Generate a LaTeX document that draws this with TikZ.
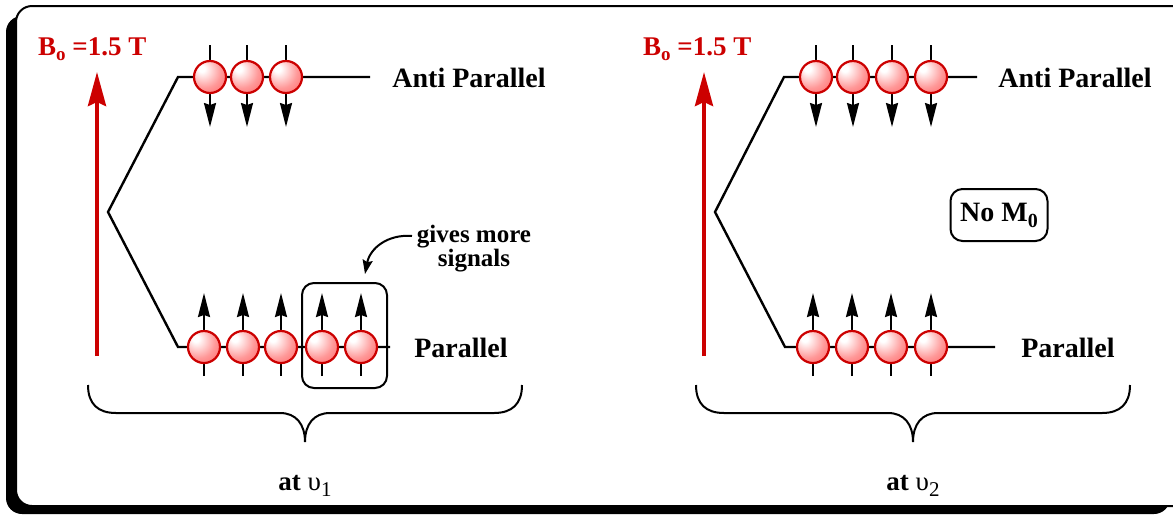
\documentclass[tikz,border=0pt]{standalone}
\usepackage{fontspec}
\setmainfont{Liberation Serif}
\usetikzlibrary{arrows.meta}
\definecolor{bred}{RGB}{204,0,0}
\pgfdeclareradialshading{sphere}{\pgfpoint{-14bp}{14bp}}{color(0bp)=(white); color(5bp)=(white); color(26bp)=(red!40!white); color(50bp)=(red!68!white); color(72bp)=(red!85!white)}
\begin{document}
\begin{tikzpicture}[x=1pt,y=-1pt,
  level/.style={line width=2.4pt},
  spin/.style={line width=2pt,-{Stealth[length=24pt,width=12pt,inset=2pt]}},
  sph/.style={circle,minimum size=32pt,inner sep=0pt,draw=bred,line width=2.2pt,shading=sphere},
  field/.style={bred,line width=4pt,-{Stealth[length=34pt,width=18pt,inset=4pt]}},
  lbl/.style={font=\bfseries\fontsize{28}{30}\selectfont,inner sep=0pt},
  redlbl/.style={text=bred,font=\bfseries\fontsize{27}{29}\selectfont,inner sep=0pt},
  brace/.style={line width=2pt},
  roundbox/.style={draw,rounded corners=12pt,line width=2pt,inner sep=0pt}
]
\useasboundingbox (0,0) rectangle (1173,515);
% frame with shadow
\fill[black,rounded corners=16pt] (6,16) rectangle (1170,514);
\draw[line width=2pt,fill=white,rounded corners=16pt] (16,6) rectangle (1190,506);

% ---------- left panel ----------
\coordinate (LFb) at (97,356);
\coordinate (LFt) at (97,72);
\draw[field] (LFb) -- (LFt);
\node[redlbl,anchor=base west] (LB) at (38,55) {B\raisebox{-5pt}{\fontsize{19}{19}\selectfont o} =1.5 T};

\coordinate (Ltr) at (370,77);
\coordinate (Ltl) at (178,77);
\coordinate (Lv) at (108,212);
\coordinate (Lbl) at (178,347);
\coordinate (Lbr) at (390,347);
\node[roundbox,minimum width=85pt,minimum height=105pt] (sel) at (344.5,335.5) {};
\draw[level] (Ltr) -- (Ltl) -- (Lv) -- (Lbl) -- (Lbr);

\foreach \i/\x in {1/210,2/247,3/286}{
  \coordinate (LAs\i) at (\x,45);
  \coordinate (LAe\i) at (\x,127);
  \draw[spin] (LAs\i) -- (LAe\i);
  \node[sph] (LA\i) at (\x,77) {};
}
\foreach \i/\x in {1/204,2/243,3/281,4/322,5/361}{
  \coordinate (LPs\i) at (\x,376);
  \coordinate (LPe\i) at (\x,293);
  \draw[spin] (LPs\i) -- (LPe\i);
  \node[sph] (LP\i) at (\x,347) {};
}

\node[lbl,anchor=base] (LAnti) at (469,87) {Anti Parallel};
\node[lbl,anchor=base] (LPar) at (461,357) {Parallel};

\node[align=center,inner sep=0pt,font=\bfseries\fontsize{25}{22}\selectfont] (gives) at (474,249) {gives more\\signals};
\coordinate (g1) at (412,236);
\coordinate (g2) at (365,274);
\draw[line width=2pt,-{Stealth[length=14pt,width=10pt,inset=2pt]}] (g1) .. controls (388,234) and (370,248) .. (g2);

\draw[brace] (88,385) .. controls (88,404) and (98,413) .. (116,413) -- (280,413)
  .. controls (296,413) and (305,424) .. (305,442)
  .. controls (305,424) and (314,413) .. (330,413) -- (494,413)
  .. controls (512,413) and (522,404) .. (522,385);
\node[inner sep=0pt,anchor=base,font=\fontsize{27}{29}\selectfont] (at1) at (305,490) {\textbf{at} υ\raisebox{-6pt}{\fontsize{21}{21}\selectfont 1}};

% ---------- right panel ----------
\coordinate (RFb) at (704,356);
\coordinate (RFt) at (704,72);
\draw[field] (RFb) -- (RFt);
\node[redlbl,anchor=base west] (RB) at (643,55) {B\raisebox{-5pt}{\fontsize{19}{19}\selectfont o} =1.5 T};

\coordinate (Rtr) at (977,77);
\coordinate (Rtl) at (784,77);
\coordinate (Rv) at (715,212);
\coordinate (Rbl) at (785,347);
\coordinate (Rbr) at (995,347);
\draw[level] (Rtr) -- (Rtl) -- (Rv) -- (Rbl) -- (Rbr);

\foreach \i/\x in {1/816,2/853,3/892,4/931}{
  \coordinate (RAs\i) at (\x,45);
  \coordinate (RAe\i) at (\x,127);
  \draw[spin] (RAs\i) -- (RAe\i);
  \node[sph] (RA\i) at (\x,77) {};
}
\foreach \i/\x in {1/813,2/852,3/891,4/931}{
  \coordinate (RPs\i) at (\x,376);
  \coordinate (RPe\i) at (\x,293);
  \draw[spin] (RPs\i) -- (RPe\i);
  \node[sph] (RP\i) at (\x,347) {};
}

\node[lbl,anchor=base] (RAnti) at (1075,87) {Anti Parallel};
\node[lbl,anchor=base] (RPar) at (1068,357) {Parallel};

\node[roundbox,minimum width=97pt,minimum height=52pt,font=\bfseries\fontsize{28}{30}\selectfont] (noM) at (999,215) {No M\raisebox{-6pt}{\fontsize{20}{20}\selectfont 0}};

\draw[brace] (696,385) .. controls (696,404) and (706,413) .. (724,413) -- (888,413)
  .. controls (904,413) and (913,424) .. (913,442)
  .. controls (913,424) and (922,413) .. (938,413) -- (1102,413)
  .. controls (1120,413) and (1130,404) .. (1130,385);
\node[inner sep=0pt,anchor=base,font=\fontsize{27}{29}\selectfont] (at2) at (913,490) {\textbf{at} υ\raisebox{-6pt}{\fontsize{21}{21}\selectfont 2}};
\end{tikzpicture}
\end{document}
